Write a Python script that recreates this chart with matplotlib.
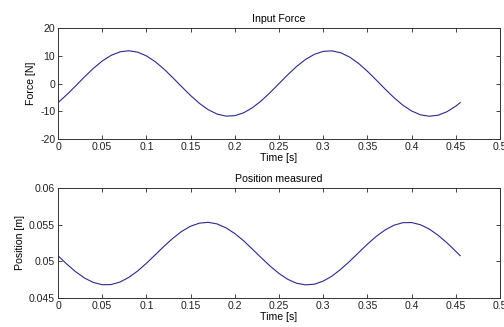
import matplotlib
matplotlib.use("Agg")
import matplotlib.pyplot as plt

plt.rcParams['font.family'] = ['Liberation Sans', 'DejaVu Sans']

time = [0.00, 0.01, 0.02, 0.03, 0.04, 0.05, 0.06, 0.07, 0.08, 0.09,
        0.10, 0.11, 0.12, 0.13, 0.14, 0.15, 0.16, 0.17, 0.18, 0.19,
        0.20, 0.21, 0.22, 0.23, 0.24, 0.25, 0.26, 0.27, 0.28, 0.29,
        0.30, 0.31, 0.32, 0.33, 0.34, 0.35, 0.36, 0.37, 0.38, 0.39,
        0.40, 0.41, 0.42, 0.43, 0.44, 0.45, 0.455]

force = [-6.90, -4.02, -0.85, 2.39, 5.45, 8.10, 10.13, 11.40, 11.80, 11.31,
         9.96, 7.86, 5.16, 2.07, -1.18, -4.33, -7.17, -9.45, -11.02, -11.75,
         -11.60, -10.56, -8.72, -6.23, -3.26, -0.04, 3.18, 6.16, 8.67, 10.52,
         11.58, 11.76, 11.05, 9.50, 7.24, 4.41, 1.26, -1.98, -5.08, -7.79,
         -9.91, -11.28, -11.80, -11.42, -10.17, -8.16, -6.90]

position = [0.05077, 0.04962, 0.04858, 0.04772, 0.04712, 0.04681, 0.04683, 0.04717, 0.04780, 0.04867,
            0.04973, 0.05089, 0.05206, 0.05315, 0.05409, 0.05479, 0.05521, 0.05532, 0.05510, 0.05457,
            0.05379, 0.05280, 0.05165, 0.05048, 0.04935, 0.04834, 0.04754, 0.04701, 0.04679, 0.04688,
            0.04730, 0.04799, 0.04893, 0.05001, 0.05118, 0.05234, 0.05340, 0.05428, 0.05492, 0.05527,
            0.05529, 0.05499, 0.05440, 0.05355, 0.05253, 0.05136, 0.05077]

x_ticks = [0, 0.05, 0.1, 0.15, 0.2, 0.25, 0.3, 0.35, 0.4, 0.45, 0.5]
x_labels = ['0', '0.05', '0.1', '0.15', '0.2', '0.25', '0.3', '0.35', '0.4', '0.45', '0.5']
force_ticks = [-20, -10, 0, 10, 20]
force_labels = ['-20', '-10', '0', '10', '20']
pos_ticks = [0.045, 0.05, 0.055, 0.06]
pos_labels = ['0.045', '0.05', '0.055', '0.06']

line_color = '#2a2a8c'
fs = 7.6

fig = plt.figure(figsize=(5.04, 3.27), dpi=100)
ax1 = fig.add_axes([58/504, 1-139/327, 442/504, 111/327])
ax2 = fig.add_axes([58/504, 1-298/327, 442/504, 110/327])

def style(ax):
    ax.tick_params(direction='in', top=True, right=True, labelsize=fs,
                   length=3, width=0.6, pad=2, colors='#222222')
    for s in ax.spines.values():
        s.set_linewidth(0.7)
        s.set_color('#333333')
    ax.set_xlim(0, 0.5)
    ax.set_xticks(x_ticks)
    ax.set_xticklabels(x_labels)

ax1.plot(time, force, color=line_color, lw=0.8)
style(ax1)
ax1.set_ylim(-20, 20)
ax1.set_yticks(force_ticks)
ax1.set_yticklabels(force_labels)
ax1.set_title('Input Force', fontsize=fs, pad=4)
ax1.set_xlabel('Time [s]', fontsize=fs, labelpad=1)
ax1.set_ylabel('Force [N]', fontsize=fs, labelpad=3)

ax2.plot(time, position, color=line_color, lw=0.8)
style(ax2)
ax2.set_ylim(0.045, 0.06)
ax2.set_yticks(pos_ticks)
ax2.set_yticklabels(pos_labels)
ax2.set_title('Position measured', fontsize=fs, pad=4)
ax2.set_xlabel('Time [s]', fontsize=fs, labelpad=1)
ax2.set_ylabel('Position [m]', fontsize=fs, labelpad=3)

fig.savefig('out.png', dpi=100)
